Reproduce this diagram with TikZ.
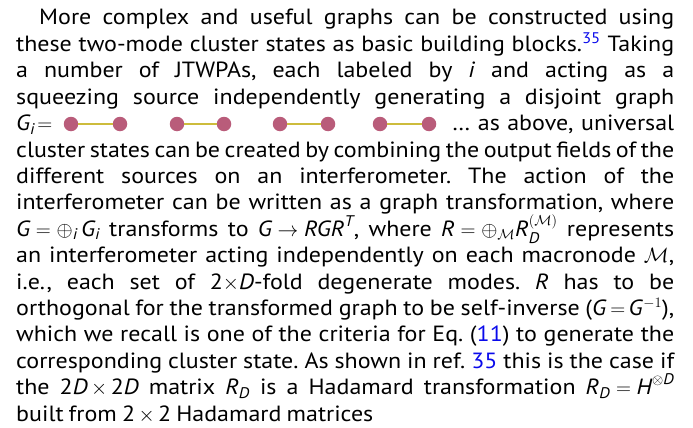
\documentclass[tikz,border=0pt]{standalone}
\usepackage{amsmath}
\usepackage{fontspec}
\setmainfont{PT Sans}[FakeStretch=1.09,WordSpace=0.8]
\usepackage{tikz}
\definecolor{vtxpink}{RGB}{185,92,122}
\definecolor{edgeolive}{RGB}{205,188,60}
\definecolor{linkblue}{RGB}{10,10,235}
\newcommand{\mi}[1]{\textit{#1}}
\newcommand{\jline}[2]{\makebox[#1][s]{#2}}
\thickmuskip=5mu
\medmuskip=4mu
\frenchspacing

\begin{document}
\begin{tikzpicture}[x=1pt,y=-1pt,
  txt/.style={anchor=base west,inner sep=0pt,font=\fontsize{22}{26}\selectfont},
  vtx/.style={circle,fill=vtxpink,minimum size=14.5pt,inner sep=0pt},
  edge/.style={edgeolive,line width=2.8pt}]
\useasboundingbox (0,0) rectangle (693,428);
% paragraph lines
\node[txt] (l1) at (39,25) {\jline{635pt}{More complex and useful graphs can be constructed using}};
\node[txt] (l2) at (16,51.4) {\jline{658pt}{these two-mode cluster states as basic building blocks.\textsuperscript{\color{linkblue}35} Taking}};
\node[txt] (l3) at (16,77.8) {\jline{658pt}{a number of JTWPAs, each labeled by \mi{i} and acting as a}};
\node[txt] (l4) at (16,104.2) {\jline{658pt}{squeezing source independently generating a disjoint graph}};
\node[txt] (gi) at (16,130.6) {$\mi{G}_{\mi{i}}\!=$};
\node[txt] (l5) at (452,130.6) {\jline{222pt}{\dots\ as above, universal}};
\node[txt] (l6) at (16,157) {\jline{658pt}{cluster states can be created by combining the output fields of the}};
\node[txt] (l7) at (16,183.4) {\jline{658pt}{different sources on an interferometer. The action of the}};
\node[txt] (l8) at (16,209.8) {\jline{658pt}{interferometer can be written as a graph transformation, where}};
\node[txt] (l9) at (16,236.2) {\jline{658pt}{$\mi{G}=\oplus_{\mi{i}}\,\mi{G}_{\mi{i}}$ transforms to $\mi{G}\rightarrow \mi{RGR}^{\mi{T}}$, where $\mi{R}=\oplus_{\mathcal{M}}\mi{R}_{\mi{D}}^{(\mathcal{M})}$ represents}};
\node[txt] (l10) at (16,262.6) {\jline{658pt}{an interferometer acting independently on each macronode $\mathcal{M}$,}};
\node[txt] (l11) at (16,289) {\jline{658pt}{i.e., each set of 2$\times$\mi{D}-fold degenerate modes. \mi{R} has to be}};
\node[txt] (l12) at (16,315.4) {\jline{658pt}{orthogonal for the transformed graph to be self-inverse (\mi{G}$\,{=}\,$\mi{G}$^{-1}$),}};
\node[txt] (l13) at (16,341.8) {\jline{658pt}{which we recall is one of the criteria for Eq. ({\color{linkblue}11}) to generate the}};
\node[txt] (l14) at (16,368.2) {\jline{658pt}{corresponding cluster state. As shown in ref. {\color{linkblue}35} this is the case if}};
\node[txt] (l15) at (16,394.6) {\jline{658pt}{the 2\mi{D}$\,\times\,$2\mi{D} matrix $\mi{R}_{\mi{D}}$ is a Hadamard transformation $\mi{R}_{\mi{D}}=\mi{H}^{\otimes \mi{D}}$}};
\node[txt] (l16) at (16,421) {built from 2$\,\times\,$2 Hadamard matrices};
% disjoint graph
\foreach \i/\xa/\xb in {1/71/120,2/177/224,3/280/328,4/380/429}{
  \node[vtx] (a\i) at (\xa,124) {};
  \node[vtx] (b\i) at (\xb,124) {};
  \draw[edge] (a\i) -- (b\i);
}
\end{tikzpicture}
\end{document}
